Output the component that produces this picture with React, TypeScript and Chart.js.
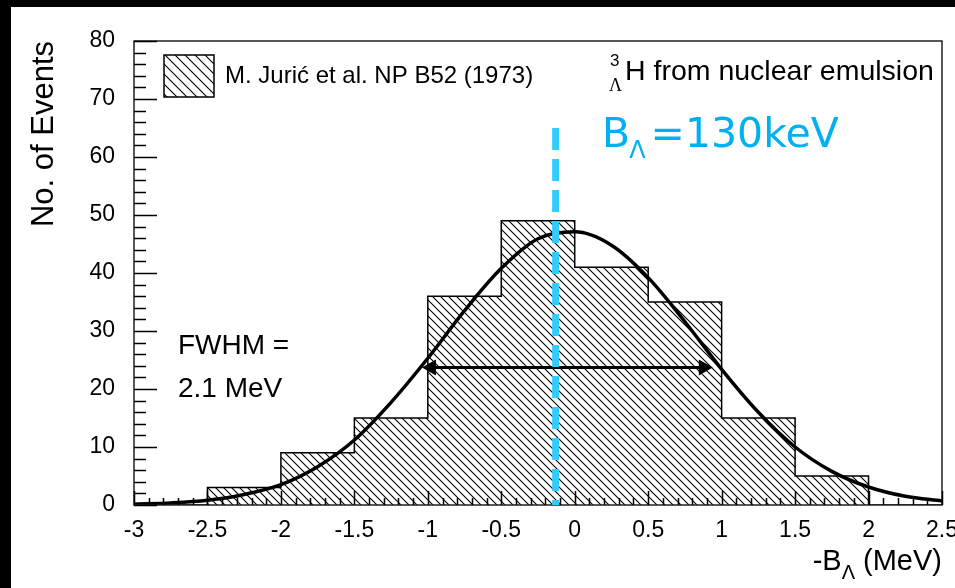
import React, { useEffect, useRef } from "react";
import { Chart, registerables } from "chart.js";

Chart.register(...registerables);

// ---- data ----
const binEdges = [-3, -2.5, -2, -1.5, -1, -0.5, 0, 0.5, 1, 1.5, 2, 2.5];
const counts = [0, 3, 9, 15, 36, 49, 41, 35, 15, 5, 0];

const fitX = [-3, -2.75, -2.5, -2.25, -2, -1.75, -1.5, -1.25, -1, -0.75, -0.5, -0.25, 0, 0.25, 0.5, 0.75, 1, 1.25, 1.5, 1.75, 2, 2.25, 2.5];
const fitY = [0.15, 0.35, 0.8, 1.8, 3.5, 6.6, 11.2, 17.7, 25.3, 33.5, 40.8, 45.9, 47.1, 44.8, 39.2, 31.6, 23.4, 16.0, 10.0, 5.8, 3.1, 1.5, 0.7];

const xRange = [-3, 2.5];
const yRange = [0, 80];
const xMajorStep = 0.5;
const xMinorStep = 0.1;
const yMajorStep = 10;
const yMinorStep = 2;

const bLambdaLine = { x: -0.13, top: 65 };
const fwhmArrow = { from: -1.04, to: 0.94, y: 23.7 };

const legendLabel = "M. Jurić et al. NP B52 (1973)";
const yTitle = "No. of Events";
const fwhmLines = ["FWHM =", "2.1 MeV"];
const topRightText = "H from nuclear emulsion";
const blueValue = "=130keV";

const SANS = "'Liberation Sans', Arial, Helvetica, sans-serif";
const SERIF = "'Liberation Serif', 'Times New Roman', serif";
const DEJAVU = "'DejaVu Sans', Verdana, sans-serif";
const BLUE_TEXT = "#00B0F0";
const BLUE_LINE = "#33CCFF";

function makeHatch(ctx: CanvasRenderingContext2D, period: number) {
  const c = document.createElement("canvas");
  c.width = period;
  c.height = period;
  const g = c.getContext("2d")!;
  g.fillStyle = "#fff";
  g.fillRect(0, 0, period, period);
  g.strokeStyle = "#000";
  g.lineWidth = 1.1;
  g.beginPath();
  g.moveTo(-2, -2);
  g.lineTo(period + 2, period + 2);
  g.moveTo(period - 2, -2);
  g.lineTo(period + 2, 2);
  g.moveTo(-2, period - 2);
  g.lineTo(2, period + 2);
  g.stroke();
  return ctx.createPattern(c, "repeat")!;
}

export default function App() {
  const ref = useRef<HTMLCanvasElement | null>(null);

  useEffect(() => {
    const canvas = ref.current!;
    const ctx0 = canvas.getContext("2d")!;
    const hatch = makeHatch(ctx0, 8);
    const legendHatch = makeHatch(ctx0, 10);

    const histPoints = counts.map((c, i) => ({ x: binEdges[i], y: c }));
    histPoints.push({ x: binEdges[binEdges.length - 1], y: 0 });
    const fitPoints = fitX.map((x, i) => ({ x, y: fitY[i] }));

    const decor = {
      id: "decor",
      beforeDraw(chart: any) {
        const ctx = chart.ctx;
        ctx.save();
        ctx.fillStyle = "#000";
        ctx.fillRect(0, 0, chart.width, chart.height);
        ctx.fillStyle = "#fff";
        ctx.fillRect(11, 7, chart.width - 11, chart.height - 7);
        ctx.restore();
      },
      afterDatasetsDraw(chart: any) {
        const { ctx, chartArea: a } = chart;
        const xs = chart.scales.x;
        const ys = chart.scales.y;
        ctx.save();

        // FWHM arrow
        const yA = ys.getPixelForValue(fwhmArrow.y);
        const x1 = xs.getPixelForValue(fwhmArrow.from);
        const x2 = xs.getPixelForValue(fwhmArrow.to);
        const hl = 14, hw = 8;
        ctx.strokeStyle = "#000";
        ctx.fillStyle = "#000";
        ctx.lineWidth = 3;
        ctx.beginPath();
        ctx.moveTo(x1 + hl - 2, yA);
        ctx.lineTo(x2 - hl + 2, yA);
        ctx.stroke();
        ctx.beginPath();
        ctx.moveTo(x1, yA);
        ctx.lineTo(x1 + hl, yA - hw);
        ctx.lineTo(x1 + hl, yA + hw);
        ctx.closePath();
        ctx.fill();
        ctx.beginPath();
        ctx.moveTo(x2, yA);
        ctx.lineTo(x2 - hl, yA - hw);
        ctx.lineTo(x2 - hl, yA + hw);
        ctx.closePath();
        ctx.fill();

        // frame
        ctx.lineWidth = 1.5;
        ctx.strokeStyle = "#222";
        ctx.strokeRect(a.left, a.top, a.right - a.left, a.bottom - a.top);

        // inner ticks
        ctx.strokeStyle = "#000";
        ctx.lineWidth = 1.5;
        const nx = Math.round((xRange[1] - xRange[0]) / xMinorStep);
        const perX = Math.round(xMajorStep / xMinorStep);
        ctx.beginPath();
        for (let i = 0; i <= nx; i++) {
          const px = Math.round(xs.getPixelForValue(xRange[0] + i * xMinorStep)) + 0.5;
          const len = i % perX === 0 ? 14 : 7;
          ctx.moveTo(px, a.bottom);
          ctx.lineTo(px, a.bottom - len);
        }
        const ny = Math.round((yRange[1] - yRange[0]) / yMinorStep);
        const perY = Math.round(yMajorStep / yMinorStep);
        for (let i = 0; i <= ny; i++) {
          const py = Math.round(ys.getPixelForValue(yRange[0] + i * yMinorStep)) + 0.5;
          const len = i % perY === 0 ? 23 : 12;
          ctx.moveTo(a.left, py);
          ctx.lineTo(a.left + len, py);
        }
        ctx.stroke();

        // dashed B_Lambda line
        const xb = xs.getPixelForValue(bLambdaLine.x);
        ctx.strokeStyle = BLUE_LINE;
        ctx.lineWidth = 7;
        ctx.setLineDash([22, 9]);
        ctx.beginPath();
        ctx.moveTo(xb, ys.getPixelForValue(bLambdaLine.top));
        ctx.lineTo(xb, a.bottom);
        ctx.stroke();
        ctx.setLineDash([]);
        ctx.restore();
      },
      afterDraw(chart: any) {
        const { ctx, chartArea: a } = chart;
        ctx.save();
        ctx.textBaseline = "alphabetic";
        ctx.textAlign = "left";
        ctx.fillStyle = "#000";

        // legend
        const lx = a.left + 30, ly = a.top + 14;
        ctx.fillStyle = legendHatch;
        ctx.fillRect(lx, ly, 50, 42);
        ctx.strokeStyle = "#000";
        ctx.lineWidth = 1.5;
        ctx.strokeRect(lx, ly, 50, 42);
        ctx.fillStyle = "#000";
        ctx.font = `24px ${SANS}`;
        ctx.fillText(legendLabel, a.left + 91, a.top + 42);

        // top right label with nuclide notation
        const hx = a.left + 491;
        ctx.font = `17px ${SANS}`;
        ctx.fillText("3", hx - 15, a.top + 25);
        ctx.font = `18px ${SERIF}`;
        ctx.fillText("Λ", hx - 16, a.top + 50);
        ctx.font = `28.5px ${SANS}`;
        ctx.fillText(topRightText, hx, a.top + 39);

        // blue B_Lambda value
        ctx.fillStyle = BLUE_TEXT;
        const bx = a.left + 468, by = a.top + 106;
        ctx.font = `41px ${DEJAVU}`;
        ctx.fillText("B", bx, by);
        const wB = ctx.measureText("B").width;
        ctx.font = `24px ${DEJAVU}`;
        ctx.fillText("Λ", bx + wB - 1, by + 11);
        const wL = ctx.measureText("Λ").width;
        ctx.font = `41px ${DEJAVU}`;
        ctx.fillText(blueValue, bx + wB + wL + 4, by);

        // FWHM text
        ctx.fillStyle = "#000";
        ctx.font = `28px ${SANS}`;
        ctx.fillText(fwhmLines[0], a.left + 44, a.top + 313);
        ctx.fillText(fwhmLines[1], a.left + 44, a.top + 356);

        // x-axis title: -B_Lambda (MeV), right aligned
        const big = `29px ${SANS}`, small = `20px ${SANS}`;
        ctx.font = big;
        const w1 = ctx.measureText("-B").width;
        const w3 = ctx.measureText(" (MeV)").width;
        ctx.font = small;
        const w2 = ctx.measureText("Λ").width;
        const start = a.right - (w1 + w2 + w3);
        const base = a.bottom + 65;
        ctx.font = big;
        ctx.fillText("-B", start, base);
        ctx.font = small;
        ctx.fillText("Λ", start + w1, base + 9);
        ctx.font = big;
        ctx.fillText(" (MeV)", start + w1 + w2, base);
        ctx.restore();
      },
    };

    const chart = new Chart(canvas, {
      type: "line",
      data: {
        datasets: [
          {
            label: "fit",
            data: fitPoints,
            borderColor: "#000",
            borderWidth: 3.5,
            cubicInterpolationMode: "monotone",
            pointRadius: 0,
            fill: false,
            order: 1,
          } as any,
          {
            label: legendLabel,
            data: histPoints,
            stepped: "before",
            borderColor: "#000",
            borderWidth: 1.5,
            backgroundColor: hatch,
            fill: "origin",
            pointRadius: 0,
            order: 2,
          } as any,
        ],
      },
      options: {
        responsive: false,
        animation: false,
        layout: { padding: { left: 0, top: 41, right: 13, bottom: 0 } },
        plugins: { legend: { display: false }, tooltip: { enabled: false } },
        scales: {
          x: {
            type: "linear",
            min: xRange[0],
            max: xRange[1],
            grid: { display: false, drawTicks: false },
            border: { display: false },
            ticks: {
              stepSize: xMajorStep,
              autoSkip: false,
              maxRotation: 0,
              padding: 12,
              color: "#000",
              font: { family: SANS, size: 23 },
              callback: (v: any) => `${+Number(v).toFixed(2)}`,
            },
            afterFit(scale: any) {
              scale.height = 83;
              scale.paddingLeft = 0;
              scale.paddingRight = 0;
            },
          },
          y: {
            type: "linear",
            min: yRange[0],
            max: yRange[1],
            grid: { display: false, drawTicks: false },
            border: { display: false },
            ticks: {
              stepSize: yMajorStep,
              padding: 19,
              color: "#000",
              font: { family: SANS, size: 23 },
            },
            title: {
              display: true,
              text: yTitle,
              align: "end",
              color: "#000",
              font: { family: SANS, size: 31 },
              padding: { top: 26, bottom: 0 },
            },
            afterFit(scale: any) {
              scale.width = 134;
            },
          },
        },
      } as any,
      plugins: [decor],
    });
    return () => chart.destroy();
  }, []);

  return (
    <div style={{ position: "fixed", left: 0, top: 0, width: 955, height: 588, background: "#000" }}>
      <canvas ref={ref} width={955} height={588} style={{ display: "block", width: 955, height: 588 }} />
    </div>
  );
}
